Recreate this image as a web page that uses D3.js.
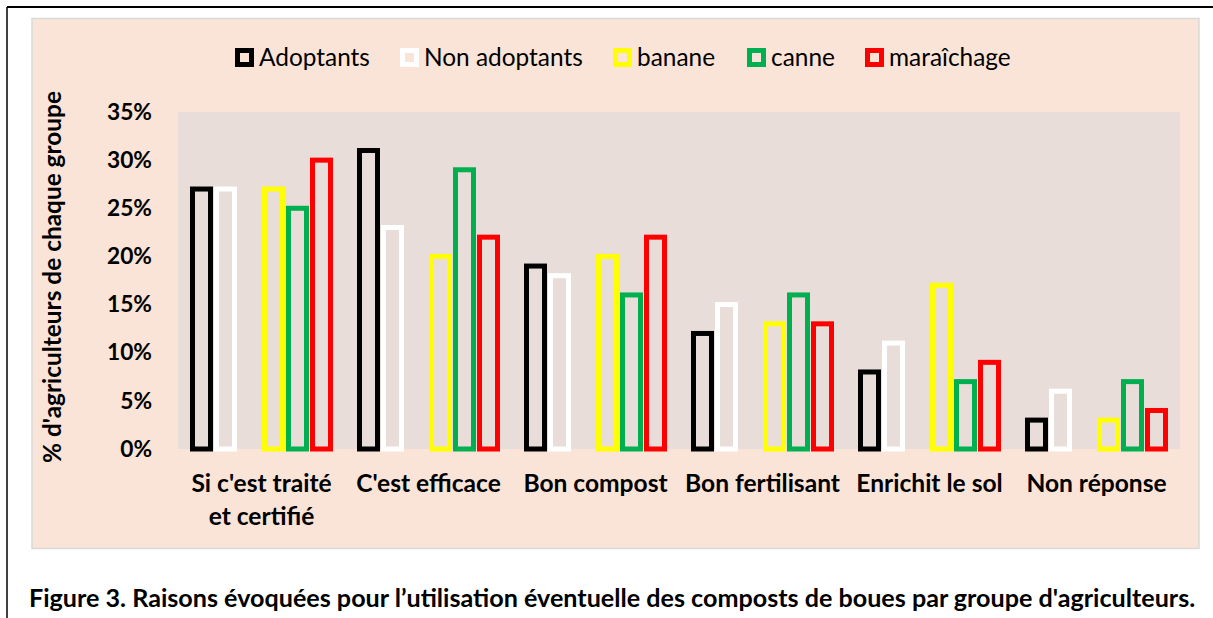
<!DOCTYPE html>
<html>
<head>
<meta charset="utf-8">
<script src="https://cdn.jsdelivr.net/npm/d3@7"></script>
<style>
  body { margin: 0; background: #fff; }
  svg { display: block; font-family: Lato, "Open Sans", sans-serif; }
</style>
</head>
<body>
<div id="chart"></div>
<script>
// data
var categories = ["Si c'est traité et certifié", "C'est efficace", "Bon compost",
                  "Bon fertilisant", "Enrichit le sol", "Non réponse"];
var series = ["Adoptants", "Non adoptants", "banane", "canne", "maraîchage"];
var colors = ["#000000", "#ffffff", "#ffff00", "#00b050", "#ff0000"];
var adoptants     = [27, 31, 19, 12, 8, 3];
var non_adoptants = [27, 23, 18, 15, 11, 6];
var banane        = [27, 20, 20, 13, 17, 3];
var canne         = [25, 29, 16, 16, 7, 7];
var maraichage    = [30, 22, 22, 13, 9, 4];
var yticks = [0, 5, 10, 15, 20, 25, 30, 35];
var caption = "Figure 3. Raisons évoquées pour l\u2019utilisation éventuelle des composts de boues par groupe d'agriculteurs.";

var values = [adoptants, non_adoptants, banane, canne, maraichage];
// the figure leaves an empty slot between the two group series and the crops
var slots = ["Adoptants", "Non adoptants", "_", "banane", "canne", "maraîchage"];

var W = 1213, H = 618;
var svg = d3.select('#chart').append('svg')
    .attr('width', W).attr('height', H);

// font size that gives `str` the width it has in the figure (Calibri there)
function fitSize(str, weight, width) {
    var t = svg.append('text').attr('font-size', 20).attr('font-weight', weight).text(str);
    var w = t.node().getComputedTextLength();
    t.remove();
    return 20 * width / w;
}

// outer frame (only top and left visible)
svg.append('line').attr('x1', 7).attr('y1', 7).attr('x2', W).attr('y2', 7)
    .attr('stroke', '#000').attr('stroke-width', 2);
svg.append('line').attr('x1', 7).attr('y1', 7).attr('x2', 7).attr('y2', H)
    .attr('stroke', '#000').attr('stroke-width', 1.5);

// chart area
svg.append('rect').attr('x', 32).attr('y', 18.5).attr('width', 1167).attr('height', 530)
    .attr('fill', '#fae4d7').attr('stroke', '#d9d9d9').attr('stroke-width', 1.5);

var plot = {left: 178, right: 1180, top: 112, bottom: 449};
svg.append('rect').attr('x', plot.left).attr('y', plot.top)
    .attr('width', plot.right - plot.left).attr('height', plot.bottom - plot.top)
    .attr('fill', '#e8ddd8');

var x0 = d3.scaleBand().domain(categories).range([plot.left, plot.right]);
var x1 = d3.scaleBand().domain(slots).range([0, x0.bandwidth()])
    .paddingInner(0.25).paddingOuter(0.604);
var y = d3.scaleLinear().domain([0, 35]).range([plot.bottom, plot.top]);

// y axis: labels only
var tickSize = fitSize('35%', 700, 45);
var yAxis = svg.append('g')
    .attr('transform', 'translate(' + 152 + ',0)')
    .call(d3.axisLeft(y).tickValues(yticks).tickSize(0).tickPadding(0)
          .tickFormat(function(d) { return d + '%'; }));
yAxis.select('.domain').remove();
yAxis.selectAll('text')
    .attr('font-family', 'Lato, sans-serif')
    .attr('font-size', tickSize).attr('font-weight', 700).attr('fill', '#000');

var ytitle = "% d'agriculteurs de chaque groupe";
svg.append('text')
    .attr('transform', 'translate(61,' + 277 + ') rotate(-90)')
    .attr('text-anchor', 'middle')
    .attr('font-size', fitSize(ytitle, 700, 372)).attr('font-weight', 700)
    .text(ytitle);

// bars
var rows = [];
categories.forEach(function(c, i) {
    series.forEach(function(s, j) {
        rows.push({cat: c, ser: s, val: values[j][i], color: colors[j]});
    });
});
svg.append('g').selectAll('rect').data(rows).enter().append('rect')
    .attr('x', function(d) { return x0(d.cat) + x1(d.ser); })
    .attr('y', function(d) { return y(d.val); })
    .attr('width', x1.bandwidth())
    .attr('height', function(d) { return y(0) - y(d.val); })
    .attr('fill', 'none')
    .attr('stroke', function(d) { return d.color; })
    .attr('stroke-width', 5);

// category labels
var catSize = fitSize('Bon fertilisant', 700, 155);
var xlab = svg.append('g');
var catLines = {"Si c'est traité et certifié": ["Si c'est traité", "et certifié"]};
categories.forEach(function(c) {
    var lines = catLines[c] || [c];
    var t = xlab.append('text')
        .attr('x', x0(c) + x0.bandwidth() / 2)
        .attr('y', 492)
        .attr('text-anchor', 'middle')
        .attr('font-size', catSize).attr('font-weight', 700);
    lines.forEach(function(l, k) {
        t.append('tspan').attr('x', x0(c) + x0.bandwidth() / 2)
            .attr('dy', k === 0 ? 0 : 33).text(l);
    });
});

// legend
var legendX = [235, 400, 613, 747, 865];
var legSize = fitSize('Adoptants', 400, 111);
var leg = svg.append('g');
series.forEach(function(s, j) {
    leg.append('rect')
        .attr('x', legendX[j] + 2.5).attr('y', 50.5)
        .attr('width', 14).attr('height', 14)
        .attr('fill', '#fae4d7')
        .attr('stroke', colors[j]).attr('stroke-width', 5);
    leg.append('text')
        .attr('x', legendX[j] + 24).attr('y', 65.5)
        .attr('font-size', legSize)
        .text(s);
});

// caption, fitted to the width it has in the figure
var cap = svg.append('text')
    .attr('x', 29).attr('y', 607)
    .attr('font-weight', 700)
    .attr('font-size', fitSize(caption, 700, 1167))
    .text(caption);
</script>
</body>
</html>
